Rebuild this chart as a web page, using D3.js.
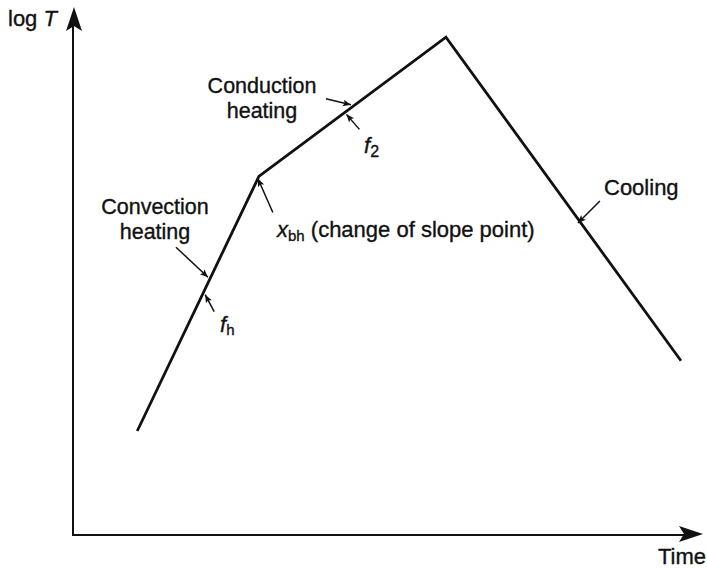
<!DOCTYPE html>
<html>
<head>
<meta charset="utf-8">
<script src="https://cdn.jsdelivr.net/npm/d3@7"></script>
<style>
  html, body { margin: 0; padding: 0; background: #fff; }
  svg { display: block; }
  text { font-family: "Liberation Sans", Arial, sans-serif; fill: #111; stroke: #111; stroke-width: 0.35px; }
</style>
</head>
<body>
<svg id="chart" width="707" height="571"></svg>
<script>
// Heat-penetration curve: log T against time (schematic units)
const times = [1.02, 2.95, 5.92, 9.65];
const logT  = [1.97, 6.79, 9.43, 3.30];
const phases = ["Convection heating", "Conduction heating", "Cooling"];
const axisLabels = ["Time", "log T"];

const svg = d3.select("#chart");

const x = d3.scaleLinear().domain([0, 10]).range([73, 703]);
const y = d3.scaleLinear().domain([0, 10]).range([535, 7]);

const ink = "#111";
const FS = 22;

// arrowhead marker for the pointer lines
const defs = svg.append("defs");
defs.append("marker")
  .attr("id", "small")
  .attr("viewBox", "0 -5 10 10")
  .attr("refX", 10).attr("refY", 0)
  .attr("markerUnits", "userSpaceOnUse")
  .attr("markerWidth", 10).attr("markerHeight", 8)
  .attr("orient", "auto")
  .append("path")
  .attr("d", "M0,-4.2L10,0L0,4.2L2.2,0Z")
  .attr("fill", ink);

// axes with filled arrowheads
const x0 = x(0), y0 = y(0), xEnd = x(10), yEnd = y(10);
svg.append("path")
  .attr("d", `M${x0},${yEnd + 18}V${y0}H${xEnd - 18}`)
  .attr("fill", "none").attr("stroke", ink).attr("stroke-width", 2);
svg.append("path")
  .attr("d", `M${x0 + 1},${yEnd} L${x0 + 9},${yEnd + 24} L${x0 + 1},${yEnd + 19} L${x0 - 7},${yEnd + 24} Z`)
  .attr("fill", ink);
svg.append("path")
  .attr("d", `M${xEnd},${y0 - 1} L${xEnd - 24},${y0 - 9} L${xEnd - 19},${y0 - 1} L${xEnd - 24},${y0 + 7} Z`)
  .attr("fill", ink);

// axis labels
const yl = svg.append("text").attr("x", 8).attr("y", 26).attr("font-size", FS);
yl.append("tspan").text("log ");
yl.append("tspan").attr("font-style", "italic").text("T");
svg.append("text").attr("x", 706).attr("y", 564).attr("text-anchor", "end")
  .attr("font-size", FS).text(axisLabels[0]);

// the curve
const pts = times.map((t, i) => [x(t), y(logT[i])]);
svg.append("path")
  .attr("d", d3.line()(pts))
  .attr("fill", "none").attr("stroke", ink)
  .attr("stroke-width", 2.8).attr("stroke-linejoin", "miter");

// point on segment i at fraction f, shifted by `side` px along the left normal
function onSeg(i, f, side) {
  const [ax, ay] = pts[i], [bx, by] = pts[i + 1];
  const dx = bx - ax, dy = by - ay, L = Math.hypot(dx, dy);
  const nx = dy / L, ny = -dx / L;
  return [ax + dx * f + nx * side, ay + dy * f + ny * side];
}

function pointer(tip, dx, dy) {
  svg.append("line")
    .attr("x1", tip[0] + dx).attr("y1", tip[1] + dy)
    .attr("x2", tip[0]).attr("y2", tip[1])
    .attr("stroke", ink).attr("stroke-width", 1.5)
    .attr("marker-end", "url(#small)");
}

// two-line centred label
function twoLines(words, cx, y1) {
  const fs = 21.5, gap = 24.5;
  svg.append("text").attr("x", cx).attr("y", y1).attr("text-anchor", "middle")
    .attr("font-size", fs).text(words[0]);
  svg.append("text").attr("x", cx).attr("y", y1 + gap).attr("text-anchor", "middle")
    .attr("font-size", fs).text(words[1]);
}

// Convection heating
pointer(onSeg(0, 0.6, 2.5), -32, -30);
twoLines(phases[0].split(" "), 155, 214);

// f_h
pointer(onSeg(0, 0.54, -2.5), 9, 17);
const fh = svg.append("text").attr("x", 220).attr("y", 332).attr("font-size", FS);
fh.append("tspan").attr("font-style", "italic").text("f");
fh.append("tspan").attr("font-size", 15).attr("dy", 3).text("h");

// x_bh at change of slope
const knee = pts[1];
pointer([knee[0] - 1, knee[1] + 2], 15, 34);
const xb = svg.append("text").attr("x", 277).attr("y", 237).attr("font-size", FS);
xb.append("tspan").attr("font-style", "italic").text("x");
xb.append("tspan").attr("font-size", 15).attr("dy", 4).text("bh");
xb.append("tspan").attr("dy", -4).text(" (change of slope point)");

// Conduction heating
pointer(onSeg(1, 0.5, 2.5), -25, -6);
twoLines(phases[1].split(" "), 262, 93);

// f_2
pointer(onSeg(1, 0.46, -2.5), 13, 15);
const f2 = svg.append("text").attr("x", 364).attr("y", 153).attr("font-size", FS);
f2.append("tspan").attr("font-style", "italic").text("f");
f2.append("tspan").attr("font-size", 16).attr("dy", 4).text("2");

// Cooling
pointer(onSeg(2, 0.57, -2.5), 22, -22);
svg.append("text").attr("x", 604).attr("y", 195).attr("font-size", FS).text(phases[2]);
</script>
</body>
</html>
